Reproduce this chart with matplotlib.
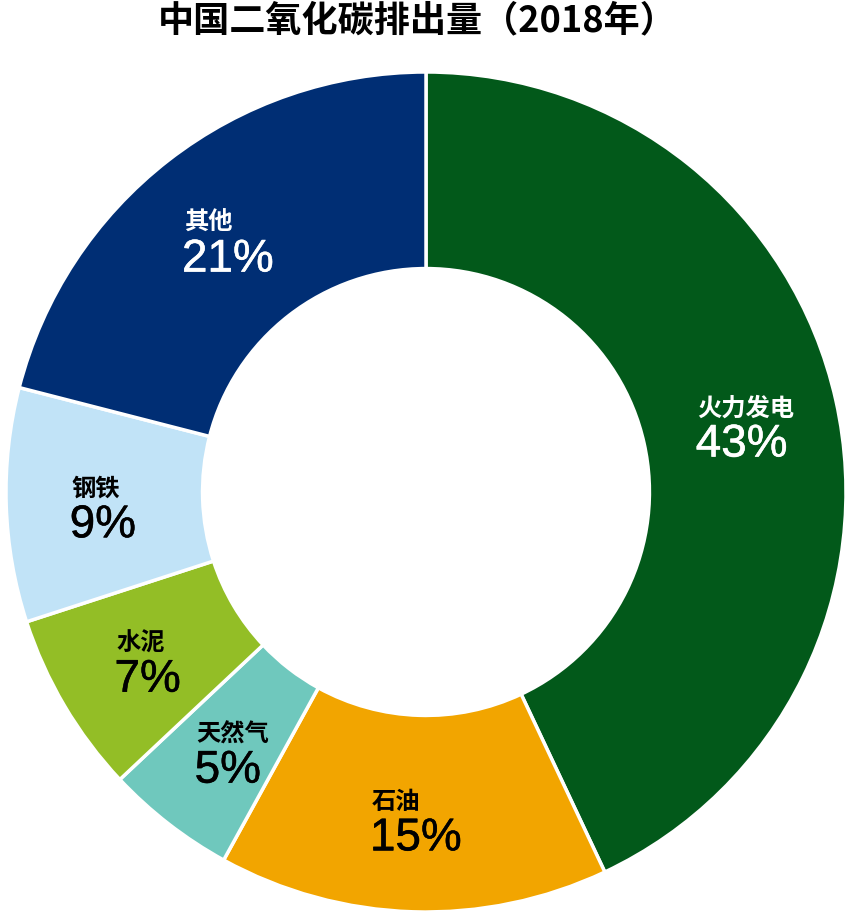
import matplotlib.pyplot as plt
import matplotlib.patheffects as pe
import numpy as np

plt.rcParams['font.family'] = ['Noto Sans CJK SC', 'DejaVu Sans']

# data
categories = ['火力发电', '石油', '天然气', '水泥', '钢铁', '其他']
shares = [43, 15, 5, 7, 9, 21]
colors = ['#02591a', '#f2a500', '#6fc8bd', '#93be26', '#c1e3f7', '#002e74']
text_colors = ['white', 'black', 'black', 'black', 'black', 'white']
title = '中国二氧化碳排出量（2018年）'

inner = 0.532
label_r = 0.77

fig = plt.figure(figsize=(8.52, 9.2), dpi=100)
ax = fig.add_axes([6 / 852, 7 / 920, 840 / 852, 840 / 920])

wedges, _ = ax.pie(shares, colors=colors, startangle=90, counterclock=False,
                   radius=1, wedgeprops=dict(width=1 - inner, edgecolor='white', linewidth=2.5))
ax.set_xlim(-1, 1)
ax.set_ylim(-1, 1)
ax.set_aspect('equal')
ax.axis('off')

fig.text(417 / 852, 1 - 21 / 920, title, ha='center', va='center',
         fontsize=26, fontweight='bold', color='black')

fig.canvas.draw()
renderer = fig.canvas.get_renderer()
for w, cat, val, tc in zip(wedges, categories, shares, text_colors):
    ang = np.deg2rad((w.theta1 + w.theta2) / 2)
    x, y = label_r * np.cos(ang), label_r * np.sin(ang)
    # slightly heavier digits, like the reference
    pct = ax.text(x, y - 0.055, f'{val}%', ha='center', va='center', fontsize=33,
                  family=['Liberation Sans'], color=tc,
                  path_effects=[pe.withStroke(linewidth=0.4, foreground=tc)])
    bb = pct.get_window_extent(renderer)
    left = ax.transData.inverted().transform((bb.x0, bb.y0))[0]
    ax.text(left + 0.004, y + 0.034, cat, ha='left', va='center', fontsize=17.5,
            fontweight='bold', color=tc)

fig.savefig('out.png', dpi=100)
